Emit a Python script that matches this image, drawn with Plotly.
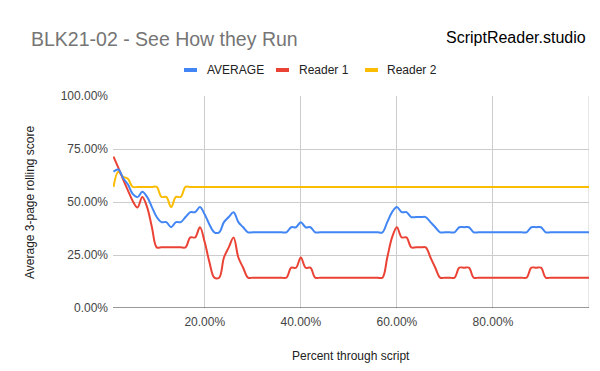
import plotly.graph_objects as go

pages = list(range(1, 101))  # percent through script

reader1 = [71.4, 66.2, 60.7, 55.5, 50.5, 47.4, 52.4, 47.6, 38.1, 28.6,
           28.6, 28.6, 28.6, 28.6, 28.6, 28.6, 33.3, 33.3, 38.1, 31.0,
           21.4, 14.3, 14.3, 23.8, 28.6, 33.3, 23.8, 19.0, 14.3, 14.3,
           14.3, 14.3, 14.3, 14.3, 14.3, 14.3, 14.3, 19.0, 19.0, 23.8,
           19.0, 19.0, 14.3, 14.3, 14.3, 14.3, 14.3, 14.3, 14.3, 14.3,
           14.3, 14.3, 14.3, 14.3, 14.3, 14.3, 14.3, 23.8, 33.3, 38.1,
           33.3, 33.3, 28.6, 28.6, 28.6, 28.6, 23.8, 19.0, 14.3, 14.3,
           14.3, 14.3, 19.0, 19.0, 19.0, 14.3, 14.3, 14.3, 14.3, 14.3,
           14.3, 14.3, 14.3, 14.3, 14.3, 14.3, 14.3, 19.0, 19.0, 19.0,
           14.3, 14.3, 14.3, 14.3, 14.3, 14.3, 14.3, 14.3, 14.3, 14.3]

reader2 = [57.1, 64.3, 61.9, 61.0, 57.1, 57.1, 57.1, 57.1, 57.1, 57.1,
           52.4, 52.4, 47.6, 52.4, 52.4] + [57.1] * 85

average = [64.3, 65.3, 61.3, 58.3, 53.8, 52.3, 54.8, 52.4, 47.6, 42.9,
           40.5, 40.5, 38.1, 40.5, 40.5, 42.9, 45.2, 45.2, 47.6, 44.1,
           39.3, 35.7, 35.7, 40.5, 42.9, 45.2, 40.5, 38.1, 35.7, 35.7,
           35.7, 35.7, 35.7, 35.7, 35.7, 35.7, 35.7, 38.1, 38.1, 40.5,
           38.1, 38.1, 35.7, 35.7, 35.7, 35.7, 35.7, 35.7, 35.7, 35.7,
           35.7, 35.7, 35.7, 35.7, 35.7, 35.7, 35.7, 40.5, 45.2, 47.6,
           45.2, 45.2, 42.9, 42.9, 42.9, 42.9, 40.5, 38.1, 35.7, 35.7,
           35.7, 35.7, 38.1, 38.1, 38.1, 35.7, 35.7, 35.7, 35.7, 35.7,
           35.7, 35.7, 35.7, 35.7, 35.7, 35.7, 35.7, 38.1, 38.1, 38.1,
           35.7, 35.7, 35.7, 35.7, 35.7, 35.7, 35.7, 35.7, 35.7, 35.7]

series_names = ["AVERAGE", "Reader 1", "Reader 2"]
series_values = [average, reader1, reader2]
series_colors = ["#4285F4", "#EA4335", "#FBBC04"]

x_ticks = [20, 40, 60, 80]
y_ticks = [0, 25, 50, 75, 100]

FONT = "Liberation Sans, Arial, sans-serif"
W, H = 600, 371
L, R, T, B = 105, 19, 88, 71
PW, PH = W - L - R, H - T - B


def px(xp):
    return (xp - L) / PW


def py(yp):
    return (H - B - yp) / PH


fig = go.Figure()
for name, vals, col in reversed(list(zip(series_names, series_values, series_colors))):
    fig.add_trace(go.Scatter(x=pages, y=vals, mode="lines", name=name,
                             line=dict(color=col, width=2, shape="spline", smoothing=1.0),
                             showlegend=False, hoverinfo="skip"))

annotations = [
    dict(text="BLK21-02 - See How they Run", xref="paper", yref="paper",
         x=px(20.5), y=py(31), xanchor="left", yanchor="middle", showarrow=False,
         font=dict(family=FONT, size=19.5, color="#757575")),
    dict(text="ScriptReader.studio", xref="paper", yref="paper",
         x=px(580), y=py(30), xanchor="right", yanchor="middle", showarrow=False,
         font=dict(family=FONT, size=16, color="#000000")),
    dict(text="Percent through script", xref="paper", yref="paper",
         x=px(343), y=py(348), xanchor="center", yanchor="middle", showarrow=False,
         font=dict(family=FONT, size=12, color="#222222")),
    dict(text="Average 3-page rolling score", xref="paper", yref="paper",
         x=px(22), y=py(194), xanchor="center", yanchor="middle", showarrow=False,
         textangle=-90, font=dict(family=FONT, size=12, color="#222222")),
]
shapes = []
# custom legend (symbol bars + labels)
legend_sym_x = [176, 268, 357]
legend_txt_x = [197, 289, 377]
for name, col, sx, tx in zip(series_names, series_colors, legend_sym_x, legend_txt_x):
    shapes.append(dict(type="rect", xref="paper", yref="paper",
                       x0=px(sx), x1=px(sx + 13), y0=py(60), y1=py(64),
                       fillcolor=col, line=dict(width=0)))
    annotations.append(dict(text=name, xref="paper", yref="paper", x=px(tx), y=py(62),
                            xanchor="left", yanchor="middle", showarrow=False,
                            font=dict(family=FONT, size=12, color="#222222")))
# baseline and right border
shapes.append(dict(type="line", xref="paper", yref="y", x0=0, x1=1, y0=0, y1=0,
                   line=dict(color="#333333", width=1)))
shapes.append(dict(type="line", xref="x", yref="paper", x0=100, x1=100, y0=0, y1=1,
                   line=dict(color="#cccccc", width=1), layer="below"))

fig.update_layout(
    width=W, height=H,
    margin=dict(l=L, r=R, t=T, b=B, autoexpand=False),
    paper_bgcolor="white", plot_bgcolor="white",
    font=dict(family=FONT, size=12, color="#444444"),
    showlegend=False,
    annotations=annotations, shapes=shapes,
)
fig.update_xaxes(range=[0.9, 100], tickvals=x_ticks, ticktext=[f"{v:.2f}%" for v in x_ticks],
                 showgrid=True, gridcolor="#cccccc", gridwidth=1, zeroline=False,
                 showline=False, ticks="", automargin=False, ticklabelstandoff=5,
                 tickfont=dict(family=FONT, size=12, color="#444444"))
fig.update_yaxes(range=[0, 100], tickvals=y_ticks, ticktext=[f"{v:.2f}%" for v in y_ticks],
                 showgrid=True, gridcolor="#cccccc", gridwidth=1, zeroline=False,
                 showline=False, ticks="", automargin=False, ticklabelstandoff=4,
                 tickfont=dict(family=FONT, size=12, color="#444444"))

fig.write_html("out.html")
